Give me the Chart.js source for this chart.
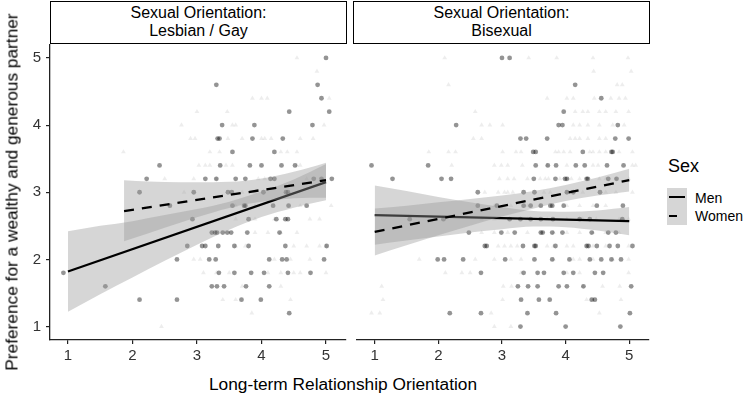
<!DOCTYPE html>
<html><head><meta charset="utf-8">
<script src="https://cdn.jsdelivr.net/npm/chart.js@4.4.1/dist/chart.umd.min.js"></script>
<style>
body{margin:0;background:#fff;width:747px;height:396px;position:relative;overflow:hidden;font-family:"Liberation Sans",Arial,sans-serif;color:#000}
.abs{position:absolute}
.strip{position:absolute;top:1px;height:43px;border:1.5px solid #000;box-sizing:border-box;background:#fff;text-align:center;font-size:16px;line-height:18px;padding-top:2px}
canvas{position:absolute}
</style></head><body>
<canvas id="c1" width="350" height="329" style="left:0;top:41px"></canvas>
<canvas id="c2" width="300" height="329" style="left:353px;top:41px"></canvas>
<div class="strip" style="left:50px;width:297px">Sexual Orientation:<br>Lesbian / Gay</div>
<div class="strip" style="left:353px;width:297px">Sexual Orientation:<br>Bisexual</div>
<div class="abs" style="left:12px;top:192px;transform:translate(-50%,-50%) rotate(-90deg);white-space:nowrap;font-size:17.3px">Preference for a wealthy and generous partner</div>
<div class="abs" style="left:343px;top:384px;transform:translate(-50%,-50%);white-space:nowrap;font-size:17.3px">Long-term Relationship Orientation</div>
<div class="abs" style="left:668px;top:155px;font-size:18px;line-height:22px">Sex</div>
<div class="abs" style="left:667px;top:188px;width:20px;height:37px;background:rgba(153,153,153,0.4)"></div>
<div class="abs" style="left:669px;top:196px;width:16px;height:0;border-top:2.3px solid #000"></div>
<div class="abs" style="left:669px;top:215px;width:8px;height:0;border-top:2.3px solid #000"></div>
<div class="abs" style="left:695px;top:190px;font-size:14px;line-height:16px">Men</div>
<div class="abs" style="left:695px;top:208px;font-size:14px;line-height:16px">Women</div>
<script>
// ---- ticks ----
const xTicks = [1, 2, 3, 4, 5];
const yTicks = [1, 2, 3, 4, 5];

// ---- Lesbian / Gay : Men (circles) ----
const menLG_x = [5.0, 3.30, 4.87, 4.93, 4.43, 5.05, 3.39, 3.89, 4.79, 3.32, 3.35, 3.86, 4.33, 3.55, 4.20,
  2.42, 3.36, 3.82, 4.0, 4.31, 4.52, 2.22, 3.13, 3.30, 3.60, 3.75, 4.14, 4.20, 4.81, 4.93, 5.09,
  2.11, 2.95, 3.48, 3.54, 4.03, 4.38, 4.41, 2.58, 3.55, 3.73, 3.75, 4.18, 4.42, 4.70,
  2.93, 3.80, 4.23, 4.37, 4.41, 3.23, 3.28, 3.31, 3.40, 3.47, 3.53, 3.78, 4.28,
  2.85, 3.08, 3.13, 3.33, 3.58, 3.80, 4.37, 5.01, 2.69, 3.19, 3.29, 4.12, 4.32, 4.39, 4.97,
  0.93, 3.34, 3.58, 3.84, 4.04, 4.41, 4.76, 1.58, 3.23, 3.31, 3.42, 3.76, 4.12, 2.11, 2.69, 3.69, 3.99, 4.43];
const menLG_y = [5.0, 4.6, 4.6, 4.4, 4.2, 4.2, 4.0, 4.0, 4.0, 3.8, 3.8, 3.8, 3.8, 3.6, 3.6,
  3.4, 3.4, 3.4, 3.4, 3.4, 3.4, 3.2, 3.2, 3.2, 3.2, 3.2, 3.2, 3.2, 3.2, 3.2, 3.2,
  3.0, 3.0, 3.0, 3.0, 3.0, 3.0, 3.0, 2.8, 2.8, 2.8, 2.8, 2.8, 2.8, 2.8,
  2.6, 2.6, 2.6, 2.6, 2.6, 2.4, 2.4, 2.4, 2.4, 2.4, 2.4, 2.4, 2.4,
  2.2, 2.2, 2.2, 2.2, 2.2, 2.2, 2.2, 2.2, 2.0, 2.0, 2.0, 2.0, 2.0, 2.0, 2.0,
  1.8, 1.8, 1.8, 1.8, 1.8, 1.8, 1.8, 1.6, 1.6, 1.6, 1.6, 1.6, 1.6, 1.4, 1.4, 1.4, 1.4, 1.2];

// ---- Lesbian / Gay : Women (triangles) ----
const womenLG_x = [4.55, 4.86, 3.86, 4.0, 4.09, 5.05, 3.0, 3.47, 2.76, 3.55, 3.6, 4.97,
  2.9, 2.97, 3.48, 3.7, 4.0, 4.05, 4.15, 4.6, 4.8, 1.86, 3.2, 3.35, 4.3, 4.4, 4.55,
  3.03, 3.13, 3.2, 3.45, 3.55, 4.55, 4.6, 2.5, 2.95, 3.3, 3.95, 4.05, 4.7, 2.8, 3.7, 3.9,
  3.6, 3.9, 4.6, 5.08, 3.6, 3.9, 4.2, 4.75, 4.9, 3.9, 4.1, 4.3, 4.55,
  3.6, 3.75, 4.5, 4.7, 4.9, 5.0, 2.95, 3.05, 4.2, 4.45, 4.75,
  3.1, 3.3, 3.5, 4.1, 4.3, 4.5, 4.6, 5.0, 3.7, 4.3, 3.4, 3.6, 4.45, 3.85, 2.45];
const womenLG_y = [5.0, 4.8, 4.4, 4.4, 4.4, 4.4, 4.2, 4.2, 4.0, 4.0, 4.0, 4.0,
  3.8, 3.8, 3.8, 3.8, 3.8, 3.8, 3.8, 3.8, 3.8, 3.6, 3.6, 3.6, 3.6, 3.6, 3.6,
  3.4, 3.4, 3.4, 3.4, 3.4, 3.4, 3.4, 3.2, 3.2, 3.2, 3.2, 3.2, 3.2, 3.0, 3.0, 3.0,
  2.8, 2.8, 2.8, 2.8, 2.6, 2.6, 2.6, 2.6, 2.6, 2.4, 2.4, 2.4, 2.4,
  2.2, 2.2, 2.2, 2.2, 2.2, 2.2, 2.0, 2.0, 2.0, 2.0, 2.0,
  1.8, 1.8, 1.8, 1.8, 1.8, 1.8, 1.8, 1.8, 1.6, 1.6, 1.4, 1.4, 1.4, 1.2, 1.0];

// ---- Bisexual : Men (circles) ----
const menBi_x = [3.00, 3.12, 4.15, 4.56, 3.97, 2.28, 3.89, 3.95, 4.82, 3.29, 3.38, 3.71, 4.78, 4.99,
  3.49, 3.53, 4.27, 4.72, 4.74, 0.95, 1.84, 3.53, 3.72, 3.85, 4.16, 4.30, 4.65, 4.91,
  1.28, 2.05, 2.20, 3.50, 3.84, 3.99, 4.02, 4.33, 4.35, 4.67, 4.80, 2.62, 3.34, 3.51, 4.02, 4.12, 4.54,
  2.62, 2.92, 3.34, 3.45, 3.61, 3.76, 3.79, 3.97, 4.49, 4.90, 1.55, 2.08, 3.12, 3.29, 3.45, 3.61, 3.80, 4.22, 4.38, 4.89,
  2.48, 2.99, 3.20, 3.61, 3.64, 3.79, 3.95, 4.41, 4.67, 4.79, 2.73, 2.76, 3.33, 3.51, 3.53, 3.84, 4.33, 4.36, 4.49, 4.69, 4.82, 5.05,
  1.99, 2.09, 2.39, 3.05, 3.51, 3.79, 4.06, 4.38, 4.56, 4.72, 4.87, 2.67, 3.34, 3.56, 3.66, 3.97, 4.12, 4.46, 4.59,
  3.25, 3.41, 3.56, 3.89, 4.02, 4.28, 5.03, 3.30, 3.58, 3.75, 4.41, 4.46, 2.18, 2.67, 3.40, 3.85, 5.01, 3.29, 4.00, 4.86];
const menBi_y = [5.0, 5.0, 4.6, 4.4, 4.2, 4.0, 4.0, 4.0, 4.0, 3.8, 3.8, 3.8, 3.8, 3.8,
  3.6, 3.6, 3.6, 3.6, 3.6, 3.4, 3.4, 3.4, 3.4, 3.4, 3.4, 3.4, 3.4, 3.4,
  3.2, 3.2, 3.2, 3.2, 3.2, 3.2, 3.2, 3.2, 3.2, 3.2, 3.2, 3.0, 3.0, 3.0, 3.0, 3.0, 3.0,
  2.8, 2.8, 2.8, 2.8, 2.8, 2.8, 2.8, 2.8, 2.8, 2.8, 2.6, 2.6, 2.6, 2.6, 2.6, 2.6, 2.6, 2.6, 2.6, 2.6,
  2.4, 2.4, 2.4, 2.4, 2.4, 2.4, 2.4, 2.4, 2.4, 2.4, 2.2, 2.2, 2.2, 2.2, 2.2, 2.2, 2.2, 2.2, 2.2, 2.2, 2.2, 2.2,
  2.0, 2.0, 2.0, 2.0, 2.0, 2.0, 2.0, 2.0, 2.0, 2.0, 2.0, 1.8, 1.8, 1.8, 1.8, 1.8, 1.8, 1.8, 1.8,
  1.6, 1.6, 1.6, 1.6, 1.6, 1.6, 1.6, 1.4, 1.4, 1.4, 1.4, 1.4, 1.2, 1.2, 1.2, 1.2, 1.2, 1.0, 1.0, 1.0];

// ---- Bisexual : Women (triangles) ----
const womenBi_x = [2.10, 3.42, 3.86, 4.43, 4.98, 4.44, 5.03, 2.16, 4.81, 4.89,
  3.71, 4.02, 4.12, 4.45, 4.71, 4.84, 4.94, 2.58, 4.15, 4.27, 4.35, 4.53, 4.63, 4.79, 4.99,
  2.68, 2.81, 3.01, 4.12, 4.22, 4.35, 4.53, 4.74, 4.92, 2.55, 2.68, 4.07, 4.15, 4.22, 4.35, 4.53, 4.63,
  1.85, 2.16, 2.27, 3.01, 3.22, 3.30, 3.84, 3.89, 3.97, 4.07, 4.38, 4.43, 4.53, 4.63, 4.84, 5.05,
  2.21, 2.88, 2.99, 3.09, 3.32, 3.71, 4.02, 4.43, 4.51, 5.05, 5.1,
  2.96, 3.09, 3.19, 3.40, 3.60, 3.68, 3.73, 3.91, 4.04, 4.09, 4.22, 4.53, 4.63, 4.79, 4.99,
  2.73, 2.94, 3.04, 3.09, 3.17, 3.66, 3.76, 4.02, 4.09, 4.27, 4.63, 4.79, 5.05,
  2.88, 3.14, 3.40, 3.60, 4.02, 4.22, 4.43, 4.63, 2.68, 2.88, 3.40, 3.71, 3.81, 4.02, 4.27, 4.48, 4.84, 4.99,
  2.68, 2.88, 3.09, 3.40, 3.81, 4.02, 4.22, 4.43, 4.63, 4.84, 2.94, 3.04, 3.14, 3.24, 3.71, 3.81, 4.02, 4.12, 4.33, 4.43, 4.63, 4.99,
  1.70, 2.58, 2.88, 3.14, 3.30, 3.81, 4.12, 4.22, 4.43, 4.74, 4.99, 2.11, 2.37, 2.50, 3.30, 4.02, 4.22, 4.99,
  1.11, 3.02, 3.15, 4.27, 4.58, 4.85, 1.13, 3.01, 4.33, 4.43, 4.87, 0.95, 1.08, 2.83, 4.53, 2.88, 3.14];
const womenBi_y = [5.0, 5.0, 5.0, 5.0, 5.0, 4.8, 4.8, 4.6, 4.6, 4.6,
  4.4, 4.4, 4.4, 4.4, 4.4, 4.4, 4.4, 4.2, 4.2, 4.2, 4.2, 4.2, 4.2, 4.2, 4.2,
  4.0, 4.0, 4.0, 4.0, 4.0, 4.0, 4.0, 4.0, 4.0, 3.8, 3.8, 3.8, 3.8, 3.8, 3.8, 3.8, 3.8,
  3.6, 3.6, 3.6, 3.6, 3.6, 3.6, 3.6, 3.6, 3.6, 3.6, 3.6, 3.6, 3.6, 3.6, 3.6, 3.6,
  3.4, 3.4, 3.4, 3.4, 3.4, 3.4, 3.4, 3.4, 3.4, 3.4, 3.4,
  3.2, 3.2, 3.2, 3.2, 3.2, 3.2, 3.2, 3.2, 3.2, 3.2, 3.2, 3.2, 3.2, 3.2, 3.2,
  3.0, 3.0, 3.0, 3.0, 3.0, 3.0, 3.0, 3.0, 3.0, 3.0, 3.0, 3.0, 3.0,
  2.8, 2.8, 2.8, 2.8, 2.8, 2.8, 2.8, 2.8, 2.6, 2.6, 2.6, 2.6, 2.6, 2.6, 2.6, 2.6, 2.6, 2.6,
  2.4, 2.4, 2.4, 2.4, 2.4, 2.4, 2.4, 2.4, 2.4, 2.4, 2.2, 2.2, 2.2, 2.2, 2.2, 2.2, 2.2, 2.2, 2.2, 2.2, 2.2, 2.2,
  2.0, 2.0, 2.0, 2.0, 2.0, 2.0, 2.0, 2.0, 2.0, 2.0, 2.0, 1.8, 1.8, 1.8, 1.8, 1.8, 1.8, 1.8,
  1.6, 1.6, 1.6, 1.6, 1.6, 1.6, 1.4, 1.4, 1.4, 1.4, 1.4, 1.2, 1.2, 1.2, 1.2, 1.0, 1.0];

// ---- fitted lines ----
const menLG_lineX = [1, 5],    menLG_lineY = [1.82, 3.15];
const womenLG_lineX = [1.87, 5], womenLG_lineY = [2.72, 3.18];
const menBi_lineX = [1, 5],    menBi_lineY = [2.66, 2.57];
const womenBi_lineX = [1, 5],  womenBi_lineY = [2.41, 3.18];

// ---- confidence bands ----
const menLG_bandX = [1, 1.5, 2, 2.5, 3, 3.5, 4, 4.5, 5];
const menLG_bandLo = [1.22, 1.48, 1.73, 1.98, 2.22, 2.44, 2.63, 2.77, 2.88];
const menLG_bandHi = [2.42, 2.50, 2.57, 2.66, 2.75, 2.86, 3.01, 3.19, 3.42];
const womenLG_bandX = [1.87, 2.25, 2.75, 3.25, 3.75, 4.25, 4.75, 5];
const womenLG_bandLo = [2.27, 2.39, 2.55, 2.70, 2.82, 2.89, 2.92, 2.92];
const womenLG_bandHi = [3.18, 3.16, 3.15, 3.15, 3.17, 3.25, 3.37, 3.44];
const menBi_bandX = [1, 1.5, 2, 2.5, 3, 3.5, 4, 4.5, 5];
const menBi_bandLo = [2.22, 2.28, 2.34, 2.40, 2.45, 2.49, 2.48, 2.43, 2.36];
const menBi_bandHi = [3.10, 3.02, 2.93, 2.85, 2.78, 2.72, 2.71, 2.73, 2.78];
const womenBi_bandX = [1, 1.5, 2, 2.5, 3, 3.5, 4, 4.5, 5];
const womenBi_bandLo = [2.06, 2.21, 2.36, 2.50, 2.64, 2.76, 2.87, 2.95, 3.01];
const womenBi_bandHi = [2.76, 2.80, 2.85, 2.90, 2.95, 3.02, 3.11, 3.22, 3.35];

const pts = (xs, ys) => xs.map((x, i) => ({x: x, y: ys[i]}));
const FILL = 'rgba(153,153,153,0.4)';
const FONT = {family: '"Liberation Sans", Arial, sans-serif', size: 15};

function datasets(mx, my, wx, wy, mlx, mly, wlx, wly, mbx, mblo, mbhi, wbx, wblo, wbhi) {
  const bandBase = {type: 'line', pointRadius: 0, borderColor: 'rgba(0,0,0,0)', borderWidth: 1,
    cubicInterpolationMode: 'monotone'};
  return [
    {type: 'scatter', data: pts(wx, wy), pointStyle: 'triangle', pointRadius: 2.8, borderWidth: 0,
      backgroundColor: 'rgba(0,0,0,0.07)', order: 10},
    {type: 'scatter', data: pts(mx, my), pointStyle: 'circle', pointRadius: 2.4, borderWidth: 0,
      backgroundColor: 'rgba(0,0,0,0.42)', order: 9},
    Object.assign({data: pts(mbx, mblo), fill: false, order: 8}, bandBase),
    Object.assign({data: pts(mbx, mbhi), fill: 2, backgroundColor: FILL, order: 7}, bandBase),
    {type: 'line', data: pts(mlx, mly), borderColor: '#000', borderWidth: 2.3, pointRadius: 0, fill: false, order: 6},
    Object.assign({data: pts(wbx, wblo), fill: false, order: 5}, bandBase),
    Object.assign({data: pts(wbx, wbhi), fill: 5, backgroundColor: FILL, order: 4}, bandBase),
    {type: 'line', data: pts(wlx, wly), borderColor: '#000', borderWidth: 2.3, borderDash: [10, 8],
      pointRadius: 0, fill: false, order: 3}
  ];
}

function zeroPad(s) { s.paddingTop = 0; s.paddingBottom = 0; s.paddingLeft = 0; s.paddingRight = 0; }

function makeChart(id, ds, showY) {
  const keep = (arr) => (scale) => { scale.ticks = arr.map(v => ({value: v})); };
  return new Chart(document.getElementById(id), {
    type: 'scatter',
    data: {datasets: ds},
    options: {
      responsive: false, animation: false, devicePixelRatio: 1,
      layout: {padding: {left: 0, right: 3, top: 0, bottom: 0}},
      plugins: {legend: {display: false}, tooltip: {enabled: false}},
      scales: {
        x: {type: 'linear', min: 0.722, max: 5.31,
          afterBuildTicks: keep(xTicks),
          afterFit: (s) => { s.height = 30; zeroPad(s); },
          ticks: {font: FONT, color: '#333', padding: 3, maxRotation: 0},
          grid: {drawOnChartArea: false, drawTicks: true, tickLength: 4, color: '#222', tickColor: '#222', lineWidth: 1.2},
          border: {display: true, color: '#222', width: 1.3}},
        y: {type: 'linear', min: 0.80, max: 5.193, display: showY,
          afterBuildTicks: keep(yTicks),
          afterFit: (s) => { s.width = showY ? 50 : 0; zeroPad(s); },
          ticks: {font: FONT, color: '#333', padding: 5},
          grid: {drawOnChartArea: false, drawTicks: true, tickLength: 4, color: '#222', tickColor: '#222', lineWidth: 1.2},
          border: {display: true, color: '#222', width: 1.3}}
      }
    }
  });
}

makeChart('c1', datasets(menLG_x, menLG_y, womenLG_x, womenLG_y, menLG_lineX, menLG_lineY,
  womenLG_lineX, womenLG_lineY, menLG_bandX, menLG_bandLo, menLG_bandHi,
  womenLG_bandX, womenLG_bandLo, womenLG_bandHi), true);
makeChart('c2', datasets(menBi_x, menBi_y, womenBi_x, womenBi_y, menBi_lineX, menBi_lineY,
  womenBi_lineX, womenBi_lineY, menBi_bandX, menBi_bandLo, menBi_bandHi,
  womenBi_bandX, womenBi_bandLo, womenBi_bandHi), false);
</script>
</body></html>
